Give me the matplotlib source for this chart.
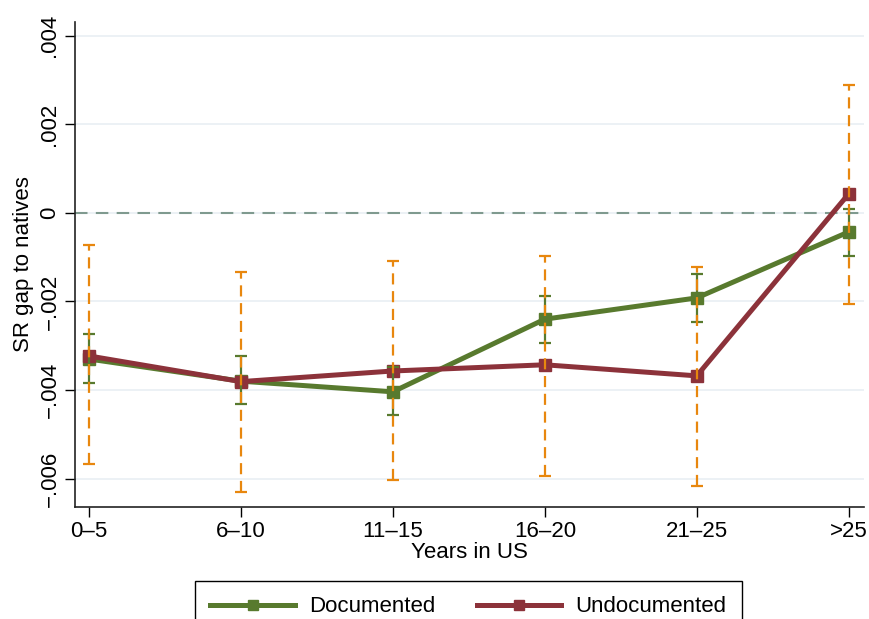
#!/usr/bin/env python3

import matplotlib.pyplot as plt
import numpy as np

plt.rcParams["font.family"] = ["Liberation Sans", "DejaVu Sans"]

years = ["0–5", "6–10", "11–15", "16–20", "21–25", ">25"]

# point estimates and 95% bounds
doc_est = [-0.00330, -0.00380, -0.00404, -0.00240, -0.00192, -0.00043]
doc_lo = [-0.00384, -0.00431, -0.00457, -0.00293, -0.00246, -0.00097]
doc_hi = [-0.00274, -0.00323, -0.00348, -0.00187, -0.00138, 0.00009]

undoc_est = [-0.00323, -0.00381, -0.00357, -0.00343, -0.00368, 0.00043]
undoc_lo = [-0.00567, -0.00630, -0.00603, -0.00594, -0.00616, -0.00205]
undoc_hi = [-0.00072, -0.00133, -0.00108, -0.00097, -0.00122, 0.00289]

yticks = [0.004, 0.002, 0, -0.002, -0.004, -0.006]
ytick_labels = [".004", ".002", "0", "−.002", "−.004", "−.006"]

green = "#587a2e"
red = "#8c323a"
orange = "#e8870e"
fs = 16

fig = plt.figure(figsize=(8.7, 6.19), dpi=100)
ax = fig.add_axes([0.0862, 0.181, 0.9068, 0.7835])

x = np.arange(len(years))

ax.axhline(0, color="#7f9a8f", lw=1.5, ls=(0, (6, 4)), zorder=1)

ax.plot(x, doc_est, color=green, lw=3.6, marker="s", ms=9,
        label="Documented", zorder=3)
ax.plot(x, undoc_est, color=red, lw=3.6, marker="s", ms=9,
        label="Undocumented", zorder=3)

def ci(lo, hi, est, color, ls):
    est = np.array(est)
    err = [est - np.array(lo), np.array(hi) - est]
    eb = ax.errorbar(x, est, yerr=err, fmt="none", ecolor=color, elinewidth=1.6,
                     capsize=4, capthick=1.6, zorder=4)
    eb[2][0].set_linestyle(ls)

ci(doc_lo, doc_hi, doc_est, green, "-")
ci(undoc_lo, undoc_hi, undoc_est, orange, (0, (5, 3)))

ax.set_xlim(-0.092, 5.1)
ax.set_ylim(-0.00664, 0.00431)
ax.set_xticks(x, years)
ax.set_yticks(yticks, ytick_labels)
ax.tick_params(axis="y", labelrotation=90, labelsize=fs, length=7, width=1)
ax.tick_params(axis="x", labelsize=fs, length=7, width=1, pad=3)
for lab in ax.get_yticklabels():
    lab.set_verticalalignment("center")
ax.grid(axis="y", color="#e9eff3", lw=1.2)
ax.set_axisbelow(True)
for s in ["top", "right"]:
    ax.spines[s].set_visible(False)
for s in ["left", "bottom"]:
    ax.spines[s].set_color("#222222")
    ax.spines[s].set_linewidth(1.2)

ax.set_xlabel("Years in US", fontsize=fs, labelpad=0)
ax.set_ylabel("SR gap to natives", fontsize=fs, labelpad=4)

fig.legend(loc="upper center", bbox_to_anchor=(0.5385, 0.0615), ncol=2,
           fontsize=fs, frameon=True, fancybox=False, edgecolor="black",
           framealpha=1, handlelength=3.8, handletextpad=0.65,
           columnspacing=1.85, borderpad=0.7, borderaxespad=0,
           markerscale=0.8)

fig.savefig("out.png", dpi=100)
